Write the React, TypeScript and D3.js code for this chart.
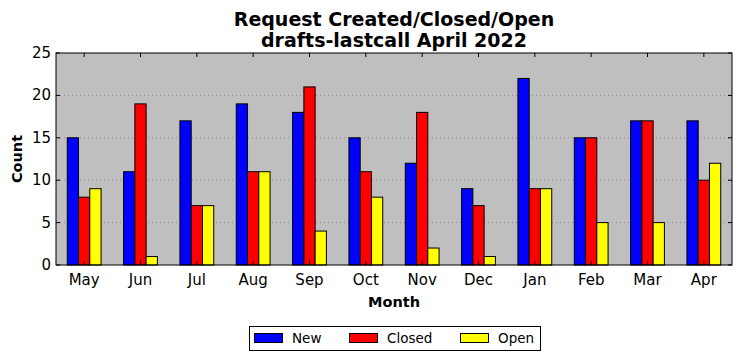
import React, { useEffect, useRef } from "react";
import * as d3 from "d3";

const months = ["May", "Jun", "Jul", "Aug", "Sep", "Oct", "Nov", "Dec", "Jan", "Feb", "Mar", "Apr"];
const newValues = [15, 11, 17, 19, 18, 15, 12, 9, 22, 15, 17, 17];
const closedValues = [8, 19, 7, 11, 21, 11, 18, 7, 9, 15, 17, 10];
const openValues = [9, 1, 7, 11, 4, 8, 2, 1, 9, 5, 5, 12];
const seriesNames = ["New", "Closed", "Open"];
const seriesColors = ["#0000ff", "#ff0000", "#ffff00"];
const yTicks = [0, 5, 10, 15, 20, 25];

export default function App() {
  const ref = useRef<SVGSVGElement>(null);

  useEffect(() => {
    const svg = d3.select(ref.current);
    svg.selectAll("*").remove();

    const width = 742;
    const height = 361;
    const margin = { top: 53, right: 10, bottom: 96, left: 56 };
    const font = "DejaVu Sans, sans-serif";
    const series = [newValues, closedValues, openValues];

    const x = d3
      .scaleBand()
      .domain(months)
      .range([margin.left, width - margin.right])
      .paddingInner(0)
      .paddingOuter(0);
    const step = x.step();
    const barW = step * 0.2;

    const y = d3
      .scaleLinear()
      .domain([0, 25])
      .range([height - margin.bottom, margin.top]);

    const x0 = margin.left;
    const x1 = width - margin.right;
    const y0 = height - margin.bottom;
    const y1 = margin.top;

    // plot background
    svg
      .append("rect")
      .attr("x", x0)
      .attr("y", y1)
      .attr("width", x1 - x0)
      .attr("height", y0 - y1)
      .attr("fill", "#bfbfbf");

    // grid
    svg
      .append("g")
      .selectAll("line")
      .data(yTicks.filter((t) => t > 0 && t < 25))
      .join("line")
      .attr("x1", x0)
      .attr("x2", x1)
      .attr("y1", (d) => y(d))
      .attr("y2", (d) => y(d))
      .attr("stroke", "#808080")
      .attr("stroke-width", 0.8)
      .attr("stroke-dasharray", "1,3");

    // bars
    series.forEach((vals, si) => {
      svg
        .append("g")
        .selectAll("rect")
        .data(vals)
        .join("rect")
        .attr("x", (_, i) => x(months[i])! + step / 2 - 1.5 * barW + si * barW)
        .attr("y", (d) => y(d))
        .attr("width", barW)
        .attr("height", (d) => y(0) - y(d))
        .attr("fill", seriesColors[si])
        .attr("stroke", "#000")
        .attr("stroke-width", 1);
    });

    // frame
    svg
      .append("rect")
      .attr("x", x0)
      .attr("y", y1)
      .attr("width", x1 - x0)
      .attr("height", y0 - y1)
      .attr("fill", "none")
      .attr("stroke", "#000")
      .attr("stroke-width", 1);

    // ticks (inward, all four sides)
    const tickLen = 4;
    const ticks = svg.append("g").attr("stroke", "#000").attr("stroke-width", 1);
    months.forEach((m) => {
      const cx = x(m)! + step / 2;
      ticks.append("line").attr("x1", cx).attr("x2", cx).attr("y1", y0).attr("y2", y0 - tickLen);
      ticks.append("line").attr("x1", cx).attr("x2", cx).attr("y1", y1).attr("y2", y1 + tickLen);
    });
    yTicks.forEach((t) => {
      ticks.append("line").attr("x1", x0).attr("x2", x0 + tickLen).attr("y1", y(t)).attr("y2", y(t));
      ticks.append("line").attr("x1", x1).attr("x2", x1 - tickLen).attr("y1", y(t)).attr("y2", y(t));
    });

    // tick labels
    svg
      .append("g")
      .selectAll("text")
      .data(months)
      .join("text")
      .attr("x", (d) => x(d)! + step / 2)
      .attr("y", y0 + 20)
      .attr("text-anchor", "middle")
      .attr("font-family", font)
      .attr("font-size", 15)
      .text((d) => d);

    svg
      .append("g")
      .selectAll("text")
      .data(yTicks)
      .join("text")
      .attr("x", x0 - 5)
      .attr("y", (d) => y(d) + 5)
      .attr("text-anchor", "end")
      .attr("font-family", font)
      .attr("font-size", 15)
      .text((d) => d);

    // titles
    const title = svg
      .append("text")
      .attr("text-anchor", "middle")
      .attr("font-family", font)
      .attr("font-weight", "bold")
      .attr("font-size", 19);
    title.append("tspan").attr("x", (x0 + x1) / 2).attr("y", 26).text("Request Created/Closed/Open");
    title.append("tspan").attr("x", (x0 + x1) / 2).attr("y", 47).text("drafts-lastcall April 2022");

    svg
      .append("text")
      .attr("x", (x0 + x1) / 2)
      .attr("y", 307)
      .attr("text-anchor", "middle")
      .attr("font-family", font)
      .attr("font-weight", "bold")
      .attr("font-size", 14.5)
      .text("Month");

    svg
      .append("text")
      .attr("transform", `translate(21.5,${(y0 + y1) / 2}) rotate(-90)`)
      .attr("text-anchor", "middle")
      .attr("font-family", font)
      .attr("font-weight", "bold")
      .attr("font-size", 14.5)
      .text("Count");

    // legend
    const lg = svg.append("g");
    lg.append("rect")
      .attr("x", 249.5)
      .attr("y", 326.5)
      .attr("width", 291)
      .attr("height", 24)
      .attr("fill", "#fff")
      .attr("stroke", "#000")
      .attr("stroke-width", 1);
    const legendX = [254, 349, 460];
    seriesNames.forEach((name, i) => {
      lg.append("rect")
        .attr("x", legendX[i] + 0.5)
        .attr("y", 333.5)
        .attr("width", 28)
        .attr("height", 9)
        .attr("fill", seriesColors[i])
        .attr("stroke", "#000")
        .attr("stroke-width", 1);
      lg.append("text")
        .attr("x", legendX[i] + 38)
        .attr("y", 343)
        .attr("font-family", font)
        .attr("font-size", 13.5)
        .text(name);
    });
  }, []);

  return <svg ref={ref} width={742} height={361} style={{ position: "absolute", left: 0, top: 0 }} />;
}
